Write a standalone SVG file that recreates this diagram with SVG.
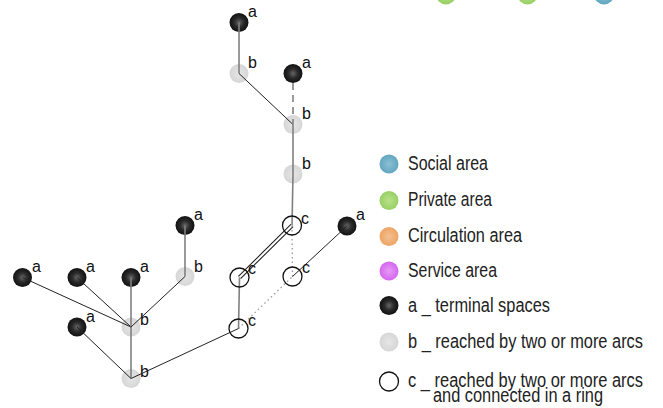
<svg xmlns="http://www.w3.org/2000/svg" width="663" height="408" viewBox="0 0 663 408">
<defs>
<radialGradient id="gA" cx="0.5" cy="0.5" r="0.5"><stop offset="0" stop-color="#666"/><stop offset="0.5" stop-color="#2a2a2a"/><stop offset="1" stop-color="#111"/></radialGradient>
<radialGradient id="gB" cx="0.5" cy="0.5" r="0.5"><stop offset="0" stop-color="#e6e6e6"/><stop offset="1" stop-color="#d6d6d6"/></radialGradient>
<radialGradient id="gSoc" cx="0.5" cy="0.5" r="0.5"><stop offset="0" stop-color="#8cc0d4"/><stop offset="1" stop-color="#62a6c0"/></radialGradient>
<radialGradient id="gPri" cx="0.5" cy="0.5" r="0.5"><stop offset="0" stop-color="#b8e08c"/><stop offset="1" stop-color="#98d064"/></radialGradient>
<radialGradient id="gCir" cx="0.5" cy="0.5" r="0.5"><stop offset="0" stop-color="#f4c090"/><stop offset="1" stop-color="#eea464"/></radialGradient>
<radialGradient id="gSer" cx="0.5" cy="0.5" r="0.5"><stop offset="0" stop-color="#e69af6"/><stop offset="1" stop-color="#d466ee"/></radialGradient>
</defs>
<style>
.a{fill:url(#gA)}
.b{fill:url(#gB)}
.c{fill:#fff;fill-opacity:0;stroke:#111;stroke-width:1.3}
.lbl{font-family:"Liberation Sans",Arial,sans-serif;font-size:16px;fill:#111}
.leg{font-family:"Liberation Sans",Arial,sans-serif;font-size:19.5px;fill:#222}
.g{stroke:#808080;stroke-width:1.6;fill:none}
.k{stroke:#222;stroke-width:1;fill:none}
.dash{stroke:#808080;stroke-width:1.6;stroke-dasharray:7,5;fill:none}
.dot{stroke:#999;stroke-width:1.3;stroke-dasharray:1.5,3;fill:none}
</style>

<g id="top-partial">
<circle cx="446" cy="-5.5" r="10" fill="url(#gPri)"/>
<circle cx="527.5" cy="-5.5" r="10" fill="url(#gPri)"/>
<circle cx="604" cy="-5.5" r="10" fill="url(#gSoc)"/>
</g>

<g id="a1"><circle class="a" cx="239" cy="22.5" r="9.5"/><text class="lbl" x="248" y="17">a</text></g>
<g id="b1"><circle class="b" cx="239" cy="73.5" r="9.5"/><text class="lbl" x="248" y="68">b</text></g>
<g id="a2"><circle class="a" cx="293" cy="73.5" r="9.5"/><text class="lbl" x="302" y="68">a</text></g>
<g id="b2"><circle class="b" cx="293" cy="124.5" r="9.5"/><text class="lbl" x="302" y="119">b</text></g>
<g id="b3"><circle class="b" cx="293" cy="174" r="9.5"/><text class="lbl" x="302" y="169">b</text></g>
<g id="a3"><circle class="a" cx="347" cy="226" r="9.5"/><text class="lbl" x="356" y="220">a</text></g>
<g id="a4"><circle class="a" cx="185" cy="225.5" r="9.5"/><text class="lbl" x="194" y="220">a</text></g>
<g id="b4"><circle class="b" cx="185" cy="276.5" r="9.5"/><text class="lbl" x="194" y="272">b</text></g>
<g id="a5"><circle class="a" cx="22.5" cy="277.5" r="9.5"/><text class="lbl" x="32" y="272">a</text></g>
<g id="a6"><circle class="a" cx="77" cy="277.5" r="9.5"/><text class="lbl" x="86" y="272">a</text></g>
<g id="a7"><circle class="a" cx="131" cy="277.5" r="9.5"/><text class="lbl" x="140" y="272">a</text></g>
<g id="b5"><circle class="b" cx="131" cy="327" r="9.5"/><text class="lbl" x="140" y="325">b</text></g>
<g id="a8"><circle class="a" cx="77" cy="327" r="9.5"/><text class="lbl" x="86" y="322">a</text></g>
<g id="b6"><circle class="b" cx="131" cy="378.5" r="9.5"/><text class="lbl" x="140" y="377">b</text></g>

<g id="connectors">
<line class="g" x1="239" y1="22.5" x2="239" y2="73.5"/>
<line class="k" x1="239" y1="73.5" x2="293" y2="124.5"/>
<line class="dash" x1="293" y1="83" x2="293" y2="124.5"/>
<line class="g" x1="293" y1="124.5" x2="293" y2="174"/>
<line class="g" x1="293" y1="174" x2="292" y2="225.5"/>
<line stroke="#222" stroke-width="4.2" x1="292" y1="225.5" x2="239.5" y2="277.5"/>
<line stroke="#fff" stroke-width="2" x1="292" y1="225.5" x2="239.5" y2="277.5"/>
<line class="dot" x1="292" y1="225.5" x2="292.5" y2="276.5"/>
<line class="k" x1="292.5" y1="276.5" x2="347" y2="226"/>
<line class="g" x1="239.5" y1="277.5" x2="238.5" y2="328.5"/>
<line class="dot" x1="238.5" y1="328.5" x2="292.5" y2="276.5"/>
<line class="k" x1="238.5" y1="328.5" x2="131" y2="378.5"/>
<line class="g" x1="131" y1="378.5" x2="131" y2="327"/>
<line class="k" x1="131" y1="378.5" x2="77" y2="327"/>
<line class="k" x1="131" y1="327" x2="22.5" y2="277.5"/>
<line class="k" x1="131" y1="327" x2="77" y2="277.5"/>
<line class="g" x1="131" y1="327" x2="131" y2="277.5"/>
<line class="k" x1="131" y1="327" x2="185" y2="276.5"/>
<line class="g" x1="185" y1="276.5" x2="185" y2="225.5"/>
</g>

<g id="c1"><circle class="c" cx="292" cy="225.5" r="9.5"/><text class="lbl" x="301" y="224" font-size="17">c</text></g>
<g id="c2"><circle class="c" cx="239.5" cy="277.5" r="9.5"/><text class="lbl" x="248" y="274" font-size="17">c</text></g>
<g id="c3"><circle class="c" cx="292.5" cy="276.5" r="9.5"/><text class="lbl" x="302" y="273" font-size="17">c</text></g>
<g id="c4"><circle class="c" cx="238.5" cy="328.5" r="9.5"/><text class="lbl" x="248" y="326" font-size="17">c</text></g>

<g id="legend">
<circle cx="389" cy="164" r="9.5" fill="url(#gSoc)"/>
<text class="leg" x="408" y="170" textLength="80" lengthAdjust="spacingAndGlyphs">Social area</text>
<circle cx="389" cy="200.5" r="9.5" fill="url(#gPri)"/>
<text class="leg" x="408" y="206" textLength="84" lengthAdjust="spacingAndGlyphs">Private area</text>
<circle cx="389" cy="236.5" r="9.5" fill="url(#gCir)"/>
<text class="leg" x="408" y="242" textLength="114" lengthAdjust="spacingAndGlyphs">Circulation area</text>
<circle cx="389" cy="271" r="9.5" fill="url(#gSer)"/>
<text class="leg" x="408" y="277" textLength="89" lengthAdjust="spacingAndGlyphs">Service area</text>
<circle cx="389" cy="305.5" r="9.5" class="a"/>
<text class="leg" x="408" y="311.5" textLength="142" lengthAdjust="spacingAndGlyphs">a _ terminal spaces</text>
<circle cx="389" cy="342" r="9.5" class="b"/>
<text class="leg" x="408" y="348" textLength="235" lengthAdjust="spacingAndGlyphs">b _ reached by two or more arcs</text>
<circle cx="389" cy="381.5" r="9.5" fill="#fff" stroke="#111" stroke-width="1.3"/>
<text class="leg" x="408" y="387" textLength="235" lengthAdjust="spacingAndGlyphs">c _ reached by two or more arcs</text>
<text class="leg" x="433" y="402" textLength="170" lengthAdjust="spacingAndGlyphs">and connected in a ring</text>
</g>
</svg>
